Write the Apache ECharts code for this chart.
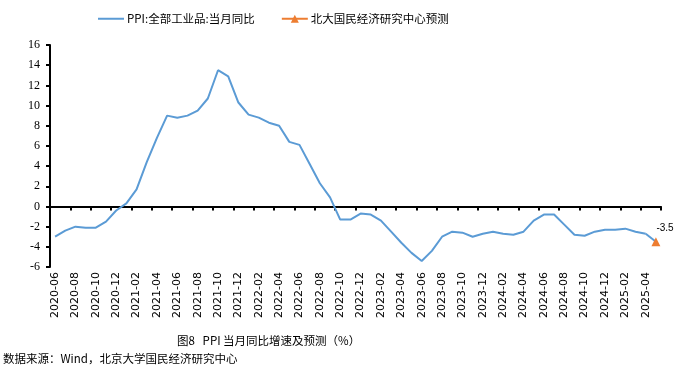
<!DOCTYPE html>
<html><head><meta charset="utf-8">
<script src="https://cdn.jsdelivr.net/npm/echarts@6/dist/echarts.min.js"></script>
<style>html,body{margin:0;padding:0;background:#fff;}#c{width:679px;height:384px;}</style>
</head><body><div id="c"></div>
<script>
const categories = [
 '2020-06','2020-07','2020-08','2020-09','2020-10','2020-11','2020-12',
 '2021-01','2021-02','2021-03','2021-04','2021-05','2021-06','2021-07','2021-08','2021-09','2021-10','2021-11','2021-12',
 '2022-01','2022-02','2022-03','2022-04','2022-05','2022-06','2022-07','2022-08','2022-09','2022-10','2022-11','2022-12',
 '2023-01','2023-02','2023-03','2023-04','2023-05','2023-06','2023-07','2023-08','2023-09','2023-10','2023-11','2023-12',
 '2024-01','2024-02','2024-03','2024-04','2024-05','2024-06','2024-07','2024-08','2024-09','2024-10','2024-11','2024-12',
 '2025-01','2025-02','2025-03','2025-04','2025-05'];
const ppi = [
 -3.0,-2.4,-2.0,-2.1,-2.1,-1.5,-0.4,
 0.3,1.7,4.4,6.8,9.0,8.8,9.0,9.5,10.7,13.5,12.9,10.3,
 9.1,8.8,8.3,8.0,6.4,6.1,4.2,2.3,0.9,-1.3,-1.3,-0.7,
 -0.8,-1.4,-2.5,-3.6,-4.6,-5.4,-4.4,-3.0,-2.5,-2.6,-3.0,-2.7,
 -2.5,-2.7,-2.8,-2.5,-1.4,-0.8,-0.8,-1.8,-2.8,-2.9,-2.5,-2.3,
 -2.3,-2.2,-2.5,-2.7,null];
const forecastMonth = '2025-05';
const forecastValue = -3.5;
const yTicks = {min:-6, max:16, interval:2};

const forecast = categories.map(c => c === forecastMonth ? forecastValue : null);
const lastIdx = ppi.reduce((a,v,i)=> v!==null ? i : a, 0);
const bridge = categories.map((c,i) => i===lastIdx ? ppi[i] : (c===forecastMonth ? forecastValue : null));

const chart = echarts.init(document.getElementById('c'), null, {renderer:'canvas'});
chart.setOption({
  animation:false,
  legend:{
    top:8, left:93, itemGap:26, itemWidth:26, itemHeight:10,
    textStyle:{fontFamily:'Noto Sans CJK SC', fontSize:11.5, color:'#000', padding:[0,0,0,-2]},
    data:[{name:'PPI:全部工业品:当月同比', icon:'path://M0,0 L26,0 L26,2 L0,2 Z'},
          {name:'北大国民经济研究中心预测'}]
  },
  grid:{left:50, right:18, top:45, bottom:117},
  xAxis:{type:'category', data:categories, boundaryGap:true,
      axisLine:{show:true, onZero:true, lineStyle:{color:'#000', width:2}},
      axisTick:{show:true, interval:1, length:4, lineStyle:{color:'#000', width:2}},
      axisLabel:{interval:1, rotate:90, margin:5, fontFamily:'DejaVu Sans', fontSize:11, color:'#000'},
      splitLine:{show:false}},
  yAxis:{
    type:'value', min:yTicks.min, max:yTicks.max, interval:yTicks.interval,
    axisLine:{show:true, lineStyle:{color:'#000', width:2}},
    axisTick:{show:true, length:4, lineStyle:{color:'#000', width:2}},
    axisLabel:{margin:10, fontFamily:'Liberation Serif', fontSize:12, color:'#000'},
    splitLine:{show:false}
  },
  series:[
    {name:'PPI:全部工业品:当月同比', type:'line', data:ppi, symbol:'none', showSymbol:false,
     lineStyle:{color:'#5B9BD5', width:2}, itemStyle:{color:'#5B9BD5'}},
    {name:'bridge', type:'line', data:bridge, symbol:'none', showSymbol:false,
     lineStyle:{color:'#5B9BD5', width:2}, itemStyle:{color:'#5B9BD5'}},
    {name:'北大国民经济研究中心预测', type:'line', data:forecast, symbol:'triangle', symbolSize:9,
     showSymbol:true, showAllSymbol:true, z:5,
     lineStyle:{color:'#ED7D31', width:3}, itemStyle:{color:'#ED7D31'},
     label:{show:true, position:[5,-14], fontFamily:'Liberation Sans', fontSize:10, color:'#000'}}
  ],
  graphic:[
    {type:'text', left:177, top:335, style:{text:'图8   PPI 当月同比增速及预测（%）', font:'11.5px "Noto Sans CJK SC"', fill:'#000'}},
    {type:'text', left:3, top:353, style:{text:'数据来源：Wind，北京大学国民经济研究中心', font:'11.5px "Noto Sans CJK SC"', fill:'#000'}}
  ]
});
</script></body></html>
